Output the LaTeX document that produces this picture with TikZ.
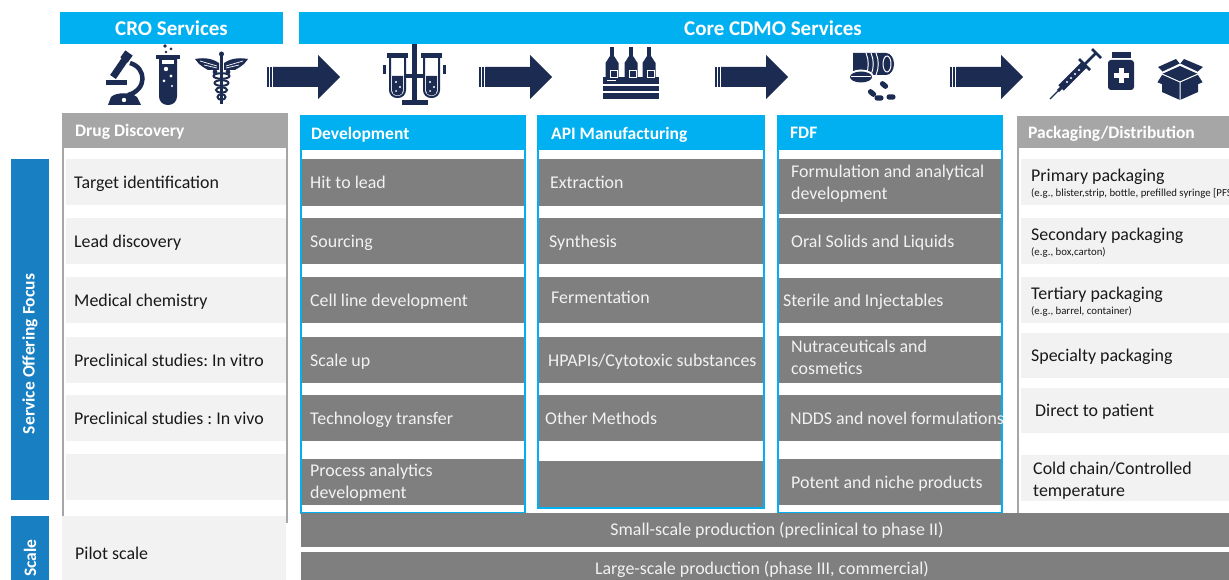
\documentclass[tikz,border=0pt]{standalone}
\usepackage{fontspec}
\setmainfont{Carlito}
\AtBeginDocument{\frenchspacing}
\definecolor{cyanH}{RGB}{0,176,240}
\definecolor{blueS}{RGB}{24,127,194}
\definecolor{grayD}{RGB}{127,127,127}
\definecolor{grayH}{RGB}{166,166,166}
\definecolor{lightR}{RGB}{242,242,242}
\definecolor{lightT}{RGB}{242,242,242}
\definecolor{darkT}{RGB}{25,25,25}
\definecolor{navy}{RGB}{28,43,82}
\newcommand\subnoteA{\fontsize{10.8}{12}\selectfont}
\tikzset{
 hdrbox/.style={fill=cyanH, text=white, font=\bfseries\fontsize{21}{25}\selectfont, inner sep=0pt, anchor=north west},
 hdrtext/.style={text=white, font=\bfseries\fontsize{21}{25}\selectfont, inner sep=0pt},
 chC/.style={fill=cyanH, text=white, font=\bfseries\fontsize{17.5}{21}\selectfont, text depth=0pt},
 chG/.style={fill=grayH, text=white, font=\bfseries\fontsize{17.5}{21}\selectfont, text depth=0pt},
 rowD/.style={fill=grayD, text=lightT, font=\fontsize{17.9}{22}\selectfont, text depth=0pt},
 rowL/.style={fill=lightR, text=darkT, font=\fontsize{17.9}{22}\selectfont, text depth=0pt},
 barbox/.style={fill=grayD, inner sep=0pt, anchor=north west},
 bartext/.style={text=lightT, font=\fontsize{17.9}{21}\selectfont, inner sep=0pt},
 sidebox/.style={fill=blueS, inner sep=0pt, anchor=north west},
 sidetext/.style={text=white, font=\bfseries\fontsize{17.5}{21}\selectfont, rotate=90, inner sep=0pt},
 cframe/.style={draw=cyanH, line width=1.5pt},
 gframe/.style={draw=grayH, line width=2pt}
}
% name, style, x, y, w, h, xpad, text
\newcommand\cell[8]{%
 \pgfmathsetmacro\cellw{#5-2*#7}%
 \node[anchor=north west, inner xsep=#7pt, inner ysep=0pt, text width=\cellw pt,
   minimum width=#5pt, minimum height=#6pt, #2] (#1) at (#3,#4)
   {\spaceskip=0pt\xspaceskip=0pt\raggedright #8\par};}
\newcommand\bigarrow[2]{%
 \fill[navy] (#2,67) rectangle (#2+2,87);
 \fill[navy] (#2+3,67) rectangle (#2+5,87);
 \fill[navy] (#2+6,67) -- (#2+51,67) -- (#2+51,55) -- (#2+73,77) -- (#2+51,99) -- (#2+51,87) -- (#2+6,87) -- cycle;
 \coordinate (#1) at (#2+36,77);}
\begin{document}
\begin{tikzpicture}[x=1pt,y=-1pt]
\useasboundingbox[fill=white] (0,0) rectangle (1229,580);

% ---------- top headers
\node[hdrbox, minimum width=223pt, minimum height=32pt] (cro) at (60,12) {};
\node[hdrtext] (crot) at (171.5,28) {CRO Services};
\node[hdrbox, minimum width=930pt, minimum height=32pt] (cdmo) at (299,12) {};
\node[hdrtext] (cdmot) at (773,28) {Core CDMO Services};

% ---------- arrows
\bigarrow{a1}{267}
\bigarrow{a2}{479}
\bigarrow{a3}{715}
\bigarrow{a4}{950}

% ---------- icons
% microscope
\fill[navy] (108,105) -- (111,97) .. controls (116,92) and (131,92) .. (137,97) -- (141,105) -- cycle;
\fill[white] (124,100) circle (2.2pt);
\draw[navy, line width=4.5pt] (130,63) .. controls (147,68) and (147,90) .. (128,95);
\fill[navy] (106,80) rectangle (127,85);
\draw[navy, line width=7pt] (113,77) -- (126,58);
\draw[navy, line width=9pt] (124,60) -- (129,53);
% test tube
\fill[navy] (156,55) rectangle (180,59);
\fill[navy] (159,59) [rounded corners=8.5pt] -- (159,105) -- (177,105) [sharp corners] -- (177,59) -- cycle;
\fill[white] (162,60) rectangle (174,64);
\fill[white] (166,69) circle (2.2pt);
\fill[white] (171,76) circle (1.6pt);
\fill[white] (164,81) circle (1.5pt);
\fill[white] (172,86) circle (1.2pt);
\fill[navy] (165,46) circle (1.8pt);
\fill[navy] (171,49) circle (1.5pt);
\fill[navy] (166,52) circle (1.3pt);
% caduceus
\fill[navy] (220,55) rectangle (223,104);
\fill[navy] (221.5,54) circle (2.5pt);
\fill[navy] (219,63) .. controls (210,57) and (201,58) .. (195,59) -- (199,64) -- (203,67) -- (208,70) -- (219,70) -- cycle;
\fill[navy] (224,63) .. controls (233,57) and (242,58) .. (248,59) -- (244,64) -- (240,67) -- (235,70) -- (224,70) -- cycle;
\draw[white, line width=0.7pt] (200,61) -- (217,66) (204,65) -- (217,68);
\draw[white, line width=0.7pt] (243,61) -- (226,66) (239,65) -- (226,68);
\foreach \yy/\rr in {76/8,83/7,90/5.5,97/4}
  \draw[navy, line width=2pt] (221.5,\yy) ellipse (\rr pt and 2.8pt);
\fill[navy] (215,72) circle (2.4pt);
\fill[navy] (228,72) circle (2.4pt);
% tubes rack
\fill[navy] (412,44) rectangle (417,100);
\fill[navy] (402,100) rectangle (428,105);
\fill[navy] (404,74) rectangle (424,78);
\draw[navy, line width=2pt] (390,57) [rounded corners=7pt] -- (390,97) -- (405,97) [sharp corners] -- (405,57);
\fill[navy] (387,53) rectangle (408,58);
\fill[navy] (392,76) [rounded corners=5pt] -- (392,95.5) -- (403,95.5) [sharp corners] -- (403,76) -- cycle;
\draw[navy, line width=2pt] (424,57) [rounded corners=7pt] -- (424,97) -- (439,97) [sharp corners] -- (439,57);
\fill[navy] (421,53) rectangle (442,58);
\fill[navy] (426,76) [rounded corners=5pt] -- (426,95.5) -- (437,95.5) [sharp corners] -- (437,76) -- cycle;
\fill[white] (396,82) circle (1.2pt) (400,87) circle (1.2pt) (396,91) circle (1pt);
\fill[white] (430,82) circle (1.2pt) (434,87) circle (1.2pt) (430,91) circle (1pt);
\fill[navy] (383,65) rectangle (386,74);
\fill[navy] (443,65) rectangle (446,74);
% crate with bottles
\fill[navy] (603,77) rectangle (659,99);
\draw[white, line width=1.2pt] (603,85) -- (659,85) (603,92) -- (659,92);
\draw[white, line width=1pt] (607,81) -- (616,81);
\foreach \cx in {612,631,649}{
  \fill[navy] (\cx-2,47) rectangle (\cx+2,56);
  \fill[navy] (\cx-2,56) -- (\cx-6.5,63) -- (\cx-6.5,77) -- (\cx+6.5,77) -- (\cx+6.5,63) -- (\cx+2,56) -- cycle;
  \draw[white, line width=0.8pt] (\cx-2,70) rectangle (\cx+5,77);
}
% pill bottle lying on its side, with pills
\fill[navy] (853,53) [rounded corners=3pt] -- (853,75) [sharp corners] -- (886,75) -- (886,53) -- cycle;
\fill[navy] (886,64) ellipse (8pt and 11pt);
\draw[white, line width=1pt] (866,53) .. controls (869,60) and (869,68) .. (866,75);
\draw[white, line width=1pt] (871,53) .. controls (874,60) and (874,68) .. (871,75);
\draw[white, line width=1pt] (876,53) .. controls (879,60) and (879,68) .. (876,75);
\draw[white, line width=1pt] (887,64) ellipse (4pt and 8pt);
\fill[white] (861,77) ellipse (13pt and 7.5pt);
\fill[navy] (861,77) ellipse (11pt and 5.5pt);
\draw[white, line width=0.9pt] (851,76) -- (871,76);
\foreach \cx/\cy/\aa in {872/93/-40,884/85/-40,891/97/0,879/98/0}
  \fill[navy, rotate around={\aa:(\cx,\cy)}, rounded corners=2.4pt] (\cx-4.5,\cy-2.6) rectangle (\cx+4.5,\cy+2.6);
% syringe
\draw[navy, line width=1.3pt] (1050,99) -- (1064,85);
\draw[navy, line width=3pt] (1058,91) -- (1063,86);
\draw[navy, line width=7.5pt] (1061,88) -- (1085,64);
\fill[white] (1067,82) circle (1.1pt) (1071,78) circle (1.1pt) (1075,74) circle (1.1pt) (1079,70) circle (1.1pt);
\draw[navy, line width=2.5pt] (1085,64) -- (1096,53);
\draw[navy, line width=2.5pt] (1079,59) -- (1090,70);
\draw[navy, line width=2.5pt] (1092,49) -- (1101,58);
% medicine bottle
\fill[navy] (1112,52) rectangle (1131,58);
\fill[navy, rounded corners=3pt] (1108,60) rectangle (1134,90);
\fill[white] (1119,68) rectangle (1124,83);
\fill[white] (1114,73) rectangle (1129,78);
% open box
\fill[navy] (1162,74) -- (1180,82) -- (1198,74) -- (1198,92) -- (1180,100) -- (1162,92) -- cycle;
\fill[navy] (1162,74) -- (1180,66) -- (1198,74) -- (1180,82) -- cycle;
\fill[navy] (1158,67) -- (1176,59) -- (1180,64) -- (1163,72) -- cycle;
\fill[navy] (1184,59) -- (1203,67) -- (1197,72) -- (1180,64) -- cycle;
\fill[navy] (1162,74) -- (1157,82) -- (1175,90) -- (1180,82) -- cycle;
\fill[navy] (1198,74) -- (1203,82) -- (1185,90) -- (1180,82) -- cycle;
\draw[white, line width=1pt] (1162,74) -- (1180,82) -- (1198,74) (1180,82) -- (1180,100);
\draw[white, line width=1pt] (1163,72) -- (1180,64) -- (1197,72);
\draw[white, line width=0.8pt] (1162,74) -- (1157,82) (1198,74) -- (1203,82);

% ---------- side labels
\node[sidebox, minimum width=38pt, minimum height=341pt] (sof) at (11,159) {};
\node[sidetext] (soft) at (30,354) {Service Offering Focus};
\node[sidebox, minimum width=38pt, minimum height=70pt] (scl) at (11,516) {};
\node[sidetext] (sclt) at (30,558) {Scale};

% ---------- column frames
\draw[gframe] (63,113) -- (63,516);
\draw[gframe] (287,113) -- (287,523);
\draw[cframe] (301,116) rectangle (525,513);
\draw[cframe] (538,116) rectangle (764,508);
\draw[cframe] (778,116) rectangle (1002,513);
\draw[gframe] (1018,116) -- (1018,513);

% ---------- column headers
\cell{hDD}{chG}{62}{113}{226}{35}{13}{Drug Discovery}
\cell{hDev}{chC}{301}{116}{224}{34}{10}{Development}
\cell{hAPI}{chC}{538}{116}{226}{34}{13}{API Manufacturing}
\cell{hFDF}{chC}{778}{116}{224}{34}{12}{FDF}
\cell{hPK}{chG}{1017}{116}{212}{32}{11}{Packaging/Distribution}

% ---------- Drug Discovery rows
\cell{d1}{rowL}{66}{159}{220}{46}{8}{Target identification}
\cell{d2}{rowL}{66}{218}{220}{46}{8}{Lead discovery}
\cell{d3}{rowL}{66}{277}{220}{46}{8}{Medical chemistry}
\cell{d4}{rowL}{66}{337}{220}{46}{8}{Preclinical studies: In vitro}
\cell{d5}{rowL}{66}{395}{220}{46}{8}{Preclinical studies : In vivo}
\cell{d6}{rowL}{66}{454}{220}{46}{8}{}

% ---------- Development rows
\cell{v1}{rowD}{302}{159}{222}{47}{8}{Hit to lead}
\cell{v2}{rowD}{302}{218}{222}{46}{8}{Sourcing}
\cell{v3}{rowD}{302}{277}{222}{46}{8}{Cell line development}
\cell{v4}{rowD}{302}{337}{222}{46}{8}{Scale up}
\cell{v5}{rowD}{302}{395}{222}{46}{8}{Technology transfer}
\cell{v6}{rowD, text depth=24.4pt}{302}{459}{222}{46}{8}{Process analytics\\development}

% ---------- API rows
\cell{p1}{rowD}{539}{159}{224}{47}{11}{Extraction}
\cell{p2}{rowD}{539}{218}{224}{46}{10}{Synthesis}
\cell{p3}{rowD, text depth=6pt}{539}{277}{224}{46}{12}{Fermentation}
\cell{p4}{rowD}{539}{337}{224}{46}{9}{\mbox{HPAPIs/Cytotoxic substances}}
\cell{p5}{rowD}{539}{395}{224}{46}{6}{Other Methods}
\cell{p6}{rowD}{539}{461}{224}{46}{6}{}

% ---------- FDF rows
\cell{f1}{rowD, text depth=30.4pt}{779}{159}{222}{55}{12}{Formulation and analytical\\development}
\cell{f2}{rowD}{779}{218}{222}{46}{12}{Oral Solids and Liquids}
\cell{f3}{rowD}{779}{278}{222}{45}{4}{Sterile and Injectables}
\cell{f4}{rowD, text depth=26.4pt}{779}{336}{222}{47}{12}{Nutraceuticals and\\cosmetics}
\cell{f5}{rowD}{779}{395}{222}{46}{11}{\mbox{NDDS and novel formulations}}
\cell{f6}{rowD}{779}{459}{222}{46}{12}{Potent and niche products}

% ---------- Packaging rows
\cell{k1}{rowL, text depth=14pt}{1021}{159}{208}{46}{10}{Primary packaging\\[-7pt]\mbox{\subnoteA (e.g., blister,strip, bottle, prefilled syringe [PFS])}}
\cell{k2}{rowL, text depth=14pt}{1021}{218}{208}{46}{10}{Secondary packaging\\[-7pt]\mbox{\subnoteA (e.g., box,carton)}}
\cell{k3}{rowL, text depth=14pt}{1021}{277}{208}{46}{10}{Tertiary packaging\\[-7pt]\mbox{\subnoteA (e.g., barrel, container)}}
\cell{k4}{rowL}{1021}{333}{208}{45}{10}{Specialty packaging}
\cell{k5}{rowL}{1021}{388}{208}{45}{14}{Direct to patient}
\cell{k6}{rowL, text depth=20.4pt}{1021}{455}{208}{46}{12}{Cold chain/Controlled\\temperature}

% ---------- scale rows
\node[rowL, anchor=north west, minimum width=224pt, minimum height=70pt, inner sep=0pt] (pilot) at (62,516) {};
\node[text=darkT, font=\fontsize{17.9}{21}\selectfont, anchor=west, inner sep=0pt] (pilott) at (75,553) {Pilot scale};
\node[barbox, minimum width=928pt, minimum height=34pt] (small) at (301,513) {};
\node[bartext] (smallt) at (777,530) {Small-scale production (preclinical to phase II)};
\node[barbox, minimum width=928pt, minimum height=34pt] (large) at (301,552) {};
\node[bartext] (larget) at (762,569) {Large-scale production (phase III, commercial)};
\end{tikzpicture}
\end{document}
